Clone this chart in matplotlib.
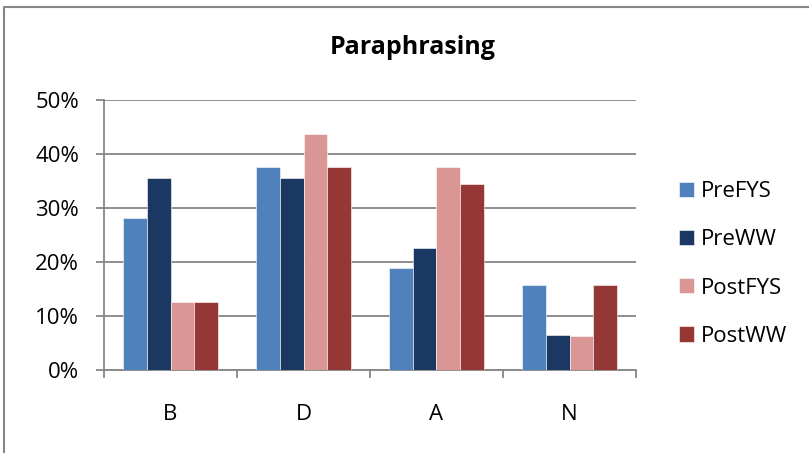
import matplotlib
matplotlib.use("Agg")
import matplotlib.pyplot as plt
import numpy as np
from matplotlib.lines import Line2D

categories = ["B", "D", "A", "N"]
series_names = ["PreFYS", "PreWW", "PostFYS", "PostWW"]
pre_fys = [28.1, 37.5, 18.75, 15.6]
pre_ww = [35.5, 35.5, 22.6, 6.45]
post_fys = [12.5, 43.75, 37.5, 6.25]
post_ww = [12.5, 37.5, 34.4, 15.6]
y_ticks = [0, 10, 20, 30, 40, 50]
y_tick_labels = ["0%", "10%", "20%", "30%", "40%", "50%"]
title = "Paraphrasing"

colors = ["#4F81BD", "#1B3862", "#D99694", "#953735"]
font = ["Open Sans", "DejaVu Sans"]
plt.rcParams['font.family'] = font
FS = 16

W, H = 809, 453
fig = plt.figure(figsize=(W / 100, H / 100), dpi=100)
ax = fig.add_axes([104 / W, 1 - 369.5 / H, (636 - 104) / W, (369.5 - 100) / H])

# outer border (only top and left visible in the crop)
fig.lines.append(Line2D([4 / W, 4 / W, 1.0], [0.0, 1 - 7 / H, 1 - 7 / H],
                        transform=fig.transFigure, color="#868686", linewidth=1.5))

x = np.arange(len(categories))
width = 0.18
data = [pre_fys, pre_ww, post_fys, post_ww]
bars = []
for i, (vals, c, name) in enumerate(zip(data, colors, series_names)):
    b = ax.bar(x + (i - 1.5) * width, vals, width, color=c, label=name,
               edgecolor="white", linewidth=0.4, zorder=3)
    bars.append(b)

ax.set_xlim(-0.5, len(categories) - 0.5)
ax.set_ylim(0, 50)
ax.set_yticks(y_ticks)
ax.set_yticklabels(y_tick_labels, fontsize=FS)
ax.yaxis.grid(True, color="#868686", linewidth=1.3, zorder=0)
ax.set_axisbelow(True)

ax.set_xticks(np.arange(-0.5, len(categories), 1.0))
ax.set_xticklabels([])
ax.set_xticks(x, minor=True)
ax.set_xticklabels(categories, minor=True, fontsize=FS)
ax.tick_params(axis="x", which="minor", length=0, pad=25)
ax.tick_params(axis="x", which="major", length=6, color="#868686", width=1.3, direction="out")
ax.tick_params(axis="y", length=6, color="#868686", width=1.3, direction="out", pad=12)

for s in ["top", "right"]:
    ax.spines[s].set_visible(False)
for s in ["left", "bottom"]:
    ax.spines[s].set_color("#868686")
    ax.spines[s].set_linewidth(1.3)

fig.text(413 / W, 1 - 48 / H, title, ha="center", va="center",
         fontsize=18, fontweight="bold")

leg = fig.legend(handles=bars, labels=series_names, loc="center left",
                 bbox_to_anchor=(679 / W, 1 - 264 / H), frameon=False,
                 borderpad=0, borderaxespad=0,
                 fontsize=FS, handlelength=0.68, handleheight=0.68,
                 handletextpad=0.3, labelspacing=1.22)

fig.savefig("out.png", dpi=100)
